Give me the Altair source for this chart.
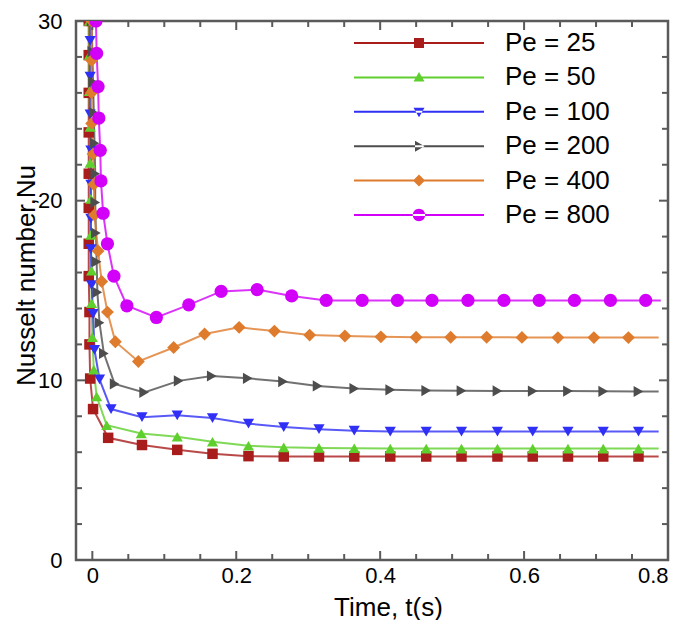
import altair as alt
import pandas as pd

# ---------------- data ----------------
pe_labels = ["Pe = 25", "Pe = 50", "Pe = 100", "Pe = 200", "Pe = 400", "Pe = 800"]
colors = ["#a81c1c", "#5fcf2d", "#2f2ff5", "#4d4d4d", "#de7b2c", "#d200f8"]
marker_shapes = ["square", "triangle-up", "triangle-down", "triangle-right", "diamond", "circle"]
marker_sizes = [110, 125, 125, 125, 165, 175]

t_pe25 = [-0.005, -0.005, -0.005, -0.005, -0.005, -0.005, -0.005, -0.005, -0.004, -0.004, -0.003,
          0.001, 0.022, 0.069, 0.118, 0.167, 0.217, 0.266, 0.315, 0.364, 0.414, 0.464, 0.513,
          0.563, 0.612, 0.661, 0.710, 0.759, 0.787]
nu_pe25 = [30.0, 28.1, 26.0, 23.8, 21.5, 19.6, 17.6, 15.8, 13.8, 12.0, 10.1,
           8.4, 6.8, 6.4, 6.13, 5.91, 5.78, 5.76, 5.76, 5.76, 5.76, 5.76, 5.76,
           5.76, 5.76, 5.76, 5.76, 5.76, 5.76]

t_pe50 = [-0.004, -0.004, -0.004, -0.003, -0.003, -0.002, -0.002, -0.001, -0.001, 0.0,
          0.002, 0.006, 0.020, 0.068, 0.118, 0.167, 0.217, 0.266, 0.315, 0.364, 0.414,
          0.464, 0.513, 0.563, 0.612, 0.661, 0.710, 0.759, 0.787]
nu_pe50 = [30.0, 28.1, 26.1, 24.1, 22.1, 20.1, 18.1, 16.1, 14.3, 12.4,
           10.6, 9.1, 7.5, 7.04, 6.86, 6.58, 6.36, 6.27, 6.24, 6.22, 6.2,
           6.2, 6.2, 6.2, 6.2, 6.2, 6.2, 6.2, 6.2]

t_pe100 = [-0.003, -0.003, -0.003, -0.003, -0.002, -0.002, -0.002, -0.002, -0.001,
           0.001, 0.003, 0.010, 0.026, 0.069, 0.118, 0.167, 0.217, 0.266, 0.315, 0.364,
           0.414, 0.464, 0.513, 0.563, 0.612, 0.661, 0.710, 0.759, 0.787]
nu_pe100 = [30.0, 28.9, 26.9, 24.8, 22.8, 20.9, 19.0, 17.3, 15.3,
            13.7, 11.7, 10.05, 8.4, 7.95, 8.05, 7.9, 7.59, 7.4, 7.28, 7.2,
            7.15, 7.15, 7.15, 7.15, 7.15, 7.15, 7.15, 7.15, 7.15]

t_pe200 = [-0.001, 0.0, 0.001, 0.002, 0.003, 0.004, 0.004, 0.005, 0.006, 0.007, 0.010, 0.016,
           0.031, 0.072, 0.120, 0.166, 0.216, 0.265, 0.313, 0.364, 0.414, 0.464, 0.513,
           0.563, 0.612, 0.661, 0.710, 0.759, 0.787]
nu_pe200 = [30.0, 28.3, 26.6, 24.9, 23.2, 21.5, 19.9, 18.2, 16.6, 14.9, 13.2, 11.5,
            9.8, 9.33, 9.97, 10.24, 10.11, 9.93, 9.69, 9.54, 9.47, 9.43, 9.42,
            9.41, 9.4, 9.4, 9.39, 9.38, 9.38]

t_pe400 = [-0.001, -0.001, -0.001, -0.001, 0.001, 0.002, 0.003, 0.008, 0.013, 0.021, 0.032,
           0.064, 0.113, 0.156, 0.204, 0.253, 0.302, 0.351, 0.401, 0.450, 0.498, 0.548,
           0.597, 0.647, 0.697, 0.745, 0.787]
nu_pe400 = [30.0, 27.8, 26.0, 24.3, 22.6, 20.9, 19.2, 17.2, 15.5, 13.8, 12.15,
            11.05, 11.83, 12.58, 12.95, 12.74, 12.52, 12.47, 12.42, 12.4, 12.4, 12.4,
            12.39, 12.38, 12.38, 12.38, 12.38]

t_pe800 = [0.005, 0.006, 0.008, 0.009, 0.011, 0.012, 0.015, 0.021, 0.030, 0.048, 0.089,
           0.134, 0.179, 0.229, 0.277, 0.325, 0.375, 0.424, 0.472, 0.522, 0.572, 0.621,
           0.670, 0.720, 0.769, 0.790]
nu_pe800 = [30.0, 28.2, 26.35, 24.6, 22.8, 21.1, 19.3, 17.6, 15.8, 14.15, 13.5,
            14.2, 14.95, 15.05, 14.7, 14.45, 14.45, 14.45, 14.45, 14.45, 14.45, 14.45,
            14.45, 14.45, 14.45, 14.45]

x_major = [0, 0.2, 0.4, 0.6, 0.8]
x_minor = [0.05, 0.1, 0.15, 0.25, 0.3, 0.35, 0.45, 0.5, 0.55, 0.65, 0.7, 0.75]
y_major = [0, 10, 20, 30]
y_minor = [2, 4, 6, 8, 12, 14, 16, 18, 22, 24, 26, 28]

series_t = [t_pe25, t_pe50, t_pe100, t_pe200, t_pe400, t_pe800]
series_nu = [nu_pe25, nu_pe50, nu_pe100, nu_pe200, nu_pe400, nu_pe800]

rows = []
for lab, ts, nus in zip(pe_labels, series_t, series_nu):
    for i, (t, nu) in enumerate(zip(ts, nus)):
        rows.append({"Pe": lab, "t": t, "Nu": nu, "i": i})
df = pd.DataFrame(rows)

# ---------------- styling ----------------
W, H = 592, 539
FONT = "Liberation Sans"
FRAME = "#5a5a5a"
MAJ, MIN = 9, 6

# legend symbols: line + marker as one custom path (units: 1 = 10 px at size 400)
line_part = "M-6.5,-0.1H6.5V0.1H-6.5Z"
legend_paths = [
    line_part + "M-0.5,-0.5H0.5V0.5H-0.5Z",
    line_part + "M0,-0.55L0.55,0.4L-0.55,0.4Z",
    line_part + "M0,0.55L0.55,-0.4L-0.55,-0.4Z",
    line_part + "M0.55,0L-0.4,-0.55L-0.4,0.55Z",
    line_part + "M0,-0.6L0.6,0L0,0.6L-0.6,0Z",
    line_part + "M-0.62,0A0.62,0.62 0 1,0 0.62,0A0.62,0.62 0 1,0 -0.62,0Z",
]

x_scale = alt.Scale(domain=[-0.0227, 0.8], nice=False, zero=False)
y_scale = alt.Scale(domain=[0, 30], nice=False, zero=False)
color_scale = alt.Scale(domain=pe_labels, range=colors)

x_axis = alt.Axis(values=x_major, format="~g", title="Time, t(s)", labelPadding=5,
                  titlePadding=8, titleX=312)
y_axis = alt.Axis(values=y_major, format="d", title="Nusselt number,Nu", labelPadding=14,
                  titlePadding=-2, titleY=254)

X = alt.X("t:Q", scale=x_scale, axis=x_axis)
Y = alt.Y("Nu:Q", scale=y_scale, axis=y_axis)

base = alt.Chart(df)

lines = base.mark_line(strokeWidth=2, opacity=0.8, clip=True).encode(
    x=X, y=Y,
    color=alt.Color("Pe:N", scale=color_scale, legend=None),
    detail="Pe:N",
    order=alt.Order("i:Q"),
)

point_layers = []
for lab, shp, sz in zip(pe_labels, marker_shapes, marker_sizes):
    point_layers.append(
        base.transform_filter((alt.datum.Pe == lab) & (alt.datum.t < 0.78))
        .mark_point(shape=shp, size=sz, filled=True, opacity=1, clip=True)
        .encode(x=X, y=Y, color=alt.Color("Pe:N", scale=color_scale, legend=None))
    )

leg_props = dict(title=None, orient="none", legendX=330, legendY=9, symbolSize=400,
                 symbolOpacity=1, symbolStrokeWidth=0, labelOffset=73, rowPadding=8.4,
                 labelFont=FONT, labelFontSize=26, labelColor="black")
legend_layer = alt.Chart(pd.DataFrame({"Pe": pe_labels})).mark_point(
    filled=True, opacity=0, size=1
).encode(
    fill=alt.Fill("Pe:N", scale=alt.Scale(domain=pe_labels, range=colors),
                  legend=alt.Legend(**leg_props)),
    shape=alt.Shape("Pe:N", scale=alt.Scale(domain=pe_labels, range=legend_paths),
                    legend=alt.Legend(**leg_props)),
)

# inward ticks on all four sides
def xticks(vals, length):
    d = pd.DataFrame({"v": vals})
    xx = alt.X("v:Q", scale=x_scale, axis=x_axis)
    bottom = alt.Chart(d).mark_rule(color=FRAME, strokeWidth=2).encode(
        x=xx, y=alt.value(H), y2=alt.value(H - length))
    top = alt.Chart(d).mark_rule(color=FRAME, strokeWidth=2).encode(
        x=xx, y=alt.value(0), y2=alt.value(length))
    return [bottom, top]

def yticks(vals, length):
    d = pd.DataFrame({"v": vals})
    yy = alt.Y("v:Q", scale=y_scale, axis=y_axis)
    left = alt.Chart(d).mark_rule(color=FRAME, strokeWidth=2).encode(
        y=yy, x=alt.value(0), x2=alt.value(length))
    right = alt.Chart(d).mark_rule(color=FRAME, strokeWidth=2).encode(
        y=yy, x=alt.value(W), x2=alt.value(W - length))
    return [left, right]

tick_layers = xticks(x_major, MAJ) + xticks(x_minor, MIN) + yticks(y_major, MAJ) + yticks(y_minor, MIN)

chart = alt.layer(legend_layer, lines, *tick_layers, *point_layers).properties(
    width=W, height=H,
    background="white",
    padding={"left": 68, "top": 13, "right": 8, "bottom": 60},
    autosize=alt.AutoSizeParams(type="none"),
).configure_view(
    stroke=FRAME, strokeWidth=2.5
).configure_axis(
    grid=False, ticks=False, domain=False,
    labelFont=FONT, labelFontSize=22, labelColor="black",
    titleFont=FONT, titleFontSize=26, titleFontWeight="normal", titleColor="black",
)

chart.save("out.html", embed_options={"renderer": "svg", "actions": False})
